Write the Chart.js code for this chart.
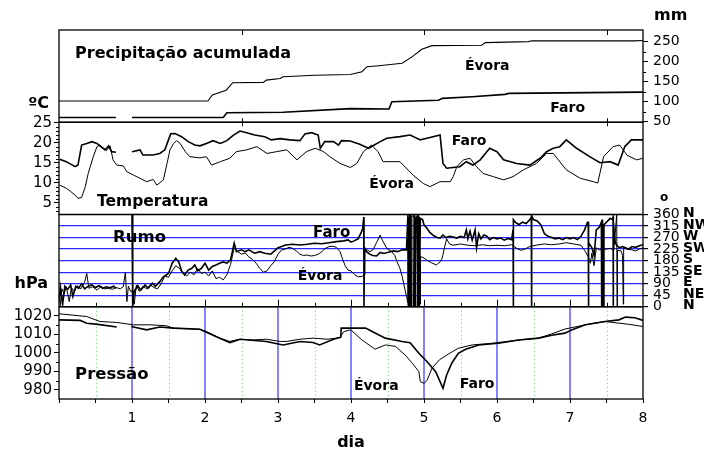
<!DOCTYPE html>
<html><head><meta charset="utf-8">
<style>html,body{margin:0;padding:0;background:#fff;}canvas{display:block;}</style>
</head><body>
<canvas id="c" width="704" height="452" style="width:704px;height:452px"></canvas>
<script src="https://cdn.jsdelivr.net/npm/chart.js"></script>
<script>
// ---------- DATA (day, value) ----------
const xTickDays = [0,0.5,1,1.5,2,2.5,3,3.5,4,4.5,5,5.5,6,6.5,7,7.5,8];
const xLabelDays = [1,2,3,4,5,6,7,8];
const precTicks = [50,100,150,200,250];
const tempTicks = [5,10,15,20,25];
const rumoTicks = [0,45,90,135,180,225,270,315,360];
const rumoCompass = ['N','NE','E','SE','S','SW','W','NW','N'];
const presTicks = [980,990,1000,1010,1020];

const precEvora = [[0,102],[2.04,102],[2.1,117],[2.29,129],[2.38,147.5],[2.8,148.5],[2.84,154],[3.03,158],[3.07,162.5],[3.5,166],[3.99,168],[4.15,175],[4.22,187.5],[4.38,190],[4.7,196],[4.84,212.5],[4.97,231],[5.11,240],[5.79,241],[5.84,247.5],[6.43,250],[6.48,252],[7.89,252],[8.0,253]];
const precFaro = [[0,61],[0.78,61],[0.8,null],[1.0,61],[2.25,61],[2.3,72.5],[3.07,74],[3.99,83],[4.52,82],[4.56,100],[5.2,104],[5.25,108.5],[5.66,112.5],[6.11,118.5],[6.16,121],[8.0,124]];

const tempEvora = [[0.01,9.4],[0.1,8.6],[0.16,7.8],[0.22,6.9],[0.26,6.1],[0.31,6.3],[0.36,9],[0.4,12.3],[0.47,16.5],[0.52,19],[0.56,19.4],[0.61,18.6],[0.65,18],[0.7,19.2],[0.74,15.7],[0.79,14.4],[0.88,14.2],[0.93,12.75],[1.02,11.9],[1.11,11.1],[1.2,10.25],[1.29,10.8],[1.34,9.4],[1.43,10.7],[1.48,14.8],[1.52,18.2],[1.57,19.8],[1.61,20.5],[1.66,19.8],[1.73,17.75],[1.79,16.5],[1.93,16.2],[2.02,16.5],[2.09,14.4],[2.21,15.25],[2.34,16.1],[2.43,17.75],[2.57,18.2],[2.71,19],[2.85,17.3],[2.98,17.75],[3.12,18.2],[3.26,15.7],[3.39,17.75],[3.51,18.6],[3.62,17.8],[3.71,16.5],[3.85,14.8],[3.99,13.8],[4.08,14.8],[4.17,17.75],[4.28,19.4],[4.37,17.75],[4.44,15.25],[4.67,15.25],[4.85,11.9],[4.99,9.8],[5.08,9],[5.22,10.25],[5.36,10.25],[5.4,11.5],[5.45,14],[5.54,15.7],[5.63,16.1],[5.72,14],[5.81,12.3],[5.95,11.5],[6.09,10.7],[6.22,11.5],[6.36,13.2],[6.54,14.8],[6.68,17.3],[6.77,17.3],[6.95,13.2],[7.14,11.1],[7.32,10.25],[7.38,9.9],[7.46,16.5],[7.59,19],[7.68,19.4],[7.78,16.9],[7.91,15.7],[8.0,16.1]];
const tempFaro = [[0.01,15.85],[0.1,15.25],[0.22,14],[0.26,14.4],[0.31,19.4],[0.38,19.8],[0.45,20.25],[0.52,19.8],[0.56,19.2],[0.63,18.2],[0.68,19.2],[0.72,17.75],[0.78,17.6],[0.85,null],[1.0,17.75],[1.11,18.2],[1.15,16.9],[1.29,16.9],[1.38,17.3],[1.45,18.2],[1.5,20.7],[1.53,22.2],[1.59,22.3],[1.68,21.5],[1.77,20.25],[1.86,19.4],[1.93,19.2],[2.02,19.8],[2.11,20.5],[2.21,19.8],[2.3,20.5],[2.39,21.9],[2.48,22.9],[2.57,22.5],[2.68,21.9],[2.82,21.5],[2.91,20.7],[3.03,21],[3.16,20.7],[3.3,20.5],[3.37,22.2],[3.46,22.5],[3.55,21.9],[3.58,18.6],[3.64,20.25],[3.76,20.25],[3.83,19.4],[3.87,20.5],[3.99,20.4],[4.12,19.6],[4.24,18.6],[4.4,20.25],[4.49,21.1],[4.67,21.5],[4.81,21.9],[4.95,20.7],[5.04,21.1],[5.22,21.9],[5.26,14.8],[5.31,13.6],[5.49,14],[5.58,15.25],[5.67,14.4],[5.77,15.7],[5.9,18.6],[6.0,17.75],[6.09,15.7],[6.27,14.8],[6.45,14.4],[6.59,16.1],[6.68,17.75],[6.77,18.6],[6.86,19],[6.95,20.7],[7.09,18.6],[7.27,16.5],[7.41,15],[7.55,15.25],[7.66,14.4],[7.75,19],[7.84,20.7],[8.0,20.7]];

const rumoFaro = [[0,20],[0.02,75],[0.05,10],[0.08,80],[0.12,68],[0.16,85],[0.19,40],[0.23,80],[0.27,72],[0.31,90],[0.35,70],[0.4,80],[0.45,85],[0.5,75],[0.55,82],[0.6,72],[0.65,78],[0.7,74],[0.75,80],[0.78,72],[0.8,null],[1.0,360],[1.01,0],[1.03,60],[1.08,82],[1.12,65],[1.18,85],[1.22,72],[1.28,92],[1.32,80],[1.38,98],[1.43,117],[1.5,130],[1.55,170],[1.6,189],[1.64,175],[1.68,140],[1.72,124],[1.77,143],[1.82,150],[1.86,163],[1.9,140],[1.95,150],[2.0,170],[2.05,143],[2.1,157],[2.15,163],[2.2,170],[2.25,175],[2.3,170],[2.35,183],[2.4,248],[2.43,215],[2.5,222],[2.55,215],[2.6,222],[2.68,209],[2.75,215],[2.82,209],[2.9,205],[2.96,220],[3.0,230],[3.05,235],[3.1,241],[3.2,244],[3.3,241],[3.4,244],[3.5,248],[3.6,246],[3.7,250],[3.8,254],[3.9,257],[3.96,261],[4.0,252],[4.05,258],[4.1,266],[4.14,290],[4.16,305],[4.175,350],[4.178,0],[4.185,230],[4.21,215],[4.26,205],[4.3,200],[4.35,198],[4.4,212],[4.45,208],[4.5,212],[4.58,218],[4.64,215],[4.7,222],[4.76,222],[4.78,360],[4.785,0],[4.8,0],[4.805,360],[4.82,360],[4.825,0],[4.86,0],[4.865,360],[4.88,345],[4.885,0],[4.91,0],[4.915,360],[4.93,350],[4.935,0],[4.945,0],[4.95,345],[4.98,340],[5.0,320],[5.04,306],[5.08,290],[5.13,278],[5.18,270],[5.22,268],[5.26,280],[5.3,270],[5.35,275],[5.4,272],[5.45,268],[5.5,275],[5.55,270],[5.58,300],[5.6,265],[5.63,295],[5.66,260],[5.7,300],[5.72,230],[5.75,285],[5.78,265],[5.82,280],[5.86,275],[5.9,262],[5.95,270],[6.0,265],[6.05,268],[6.1,260],[6.15,266],[6.2,262],[6.22,300],[6.223,0],[6.226,340],[6.25,330],[6.3,320],[6.35,330],[6.4,325],[6.45,340],[6.47,350],[6.473,0],[6.476,355],[6.5,340],[6.55,335],[6.6,320],[6.65,285],[6.7,275],[6.75,270],[6.8,265],[6.85,268],[6.9,262],[6.95,270],[7.0,265],[7.05,270],[7.1,262],[7.15,275],[7.2,300],[7.24,330],[7.25,330],[7.253,0],[7.256,250],[7.3,230],[7.33,200],[7.36,300],[7.4,310],[7.43,330],[7.432,0],[7.436,330],[7.44,0],[7.445,340],[7.46,0],[7.465,320],[7.5,330],[7.55,345],[7.58,340],[7.59,350],[7.592,0],[7.595,330],[7.62,250],[7.64,240],[7.68,230],[7.72,235],[7.76,230],[7.8,225],[7.85,235],[7.9,232],[7.95,238],[8.0,242]];
const rumoEvora = [[0,60],[0.02,5],[0.04,70],[0.07,50],[0.1,78],[0.14,20],[0.17,75],[0.21,60],[0.25,82],[0.3,70],[0.35,95],[0.38,130],[0.41,72],[0.46,78],[0.52,65],[0.58,80],[0.62,70],[0.68,72],[0.73,68],[0.78,75],[0.84,70],[0.88,78],[0.91,135],[0.93,20],[0.95,80],[0.98,60],[1.0,62],[1.03,10],[1.06,85],[1.1,60],[1.15,80],[1.2,70],[1.25,85],[1.3,75],[1.35,70],[1.4,90],[1.45,120],[1.5,115],[1.55,140],[1.6,160],[1.65,150],[1.7,130],[1.75,120],[1.8,135],[1.85,125],[1.9,150],[1.95,130],[2.0,135],[2.05,120],[2.1,140],[2.15,110],[2.2,115],[2.25,105],[2.3,125],[2.35,165],[2.4,230],[2.45,215],[2.5,205],[2.55,210],[2.6,195],[2.65,185],[2.7,170],[2.75,150],[2.8,135],[2.85,140],[2.9,160],[2.95,176],[3.0,205],[3.05,222],[3.1,225],[3.15,232],[3.2,228],[3.25,218],[3.3,205],[3.35,200],[3.4,202],[3.45,198],[3.5,200],[3.55,205],[3.6,215],[3.65,228],[3.7,235],[3.75,236],[3.8,232],[3.85,215],[3.88,190],[3.92,160],[3.96,143],[4.0,140],[4.05,125],[4.1,117],[4.15,118],[4.18,125],[4.19,220],[4.22,222],[4.26,215],[4.3,222],[4.35,250],[4.4,280],[4.43,260],[4.49,228],[4.56,215],[4.6,200],[4.63,176],[4.67,150],[4.7,120],[4.73,80],[4.76,40],[4.78,15],[4.785,350],[4.79,350],[4.795,5],[4.83,0],[4.835,355],[4.87,350],[4.875,5],[4.9,355],[4.948,10],[4.952,196],[5.0,190],[5.05,180],[5.1,172],[5.17,163],[5.22,175],[5.25,190],[5.28,230],[5.31,265],[5.35,245],[5.4,240],[5.5,245],[5.6,240],[5.7,238],[5.8,242],[5.9,238],[6.0,240],[6.1,238],[6.2,242],[6.27,228],[6.33,220],[6.38,225],[6.45,235],[6.55,241],[6.65,245],[6.75,242],[6.85,245],[6.95,250],[7.05,245],[7.15,240],[7.2,220],[7.25,195],[7.28,170],[7.3,210],[7.33,160],[7.36,230],[7.4,222],[7.5,225],[7.55,228],[7.6,222],[7.64,360],[7.645,0],[7.65,220],[7.7,218],[7.72,200],[7.73,10],[7.735,230],[7.78,225],[7.85,222],[7.9,218],[7.95,225],[8.0,230]];

const presEvora = [[0,1021.2],[0.38,1019.7],[0.56,1017],[0.79,1016.5],[1.02,1015.2],[1.25,1015.2],[1.47,1014.7],[1.57,1013.4],[1.93,1012.8],[2.02,1011.6],[2.2,1008],[2.34,1006.2],[2.48,1007.4],[2.66,1007],[2.84,1007.4],[3.03,1006.2],[3.12,1006.2],[3.3,1007.4],[3.48,1008],[3.67,1007.4],[3.85,1008.2],[3.9,1011.5],[3.99,1012.5],[4.01,1012],[4.15,1007],[4.33,1002],[4.47,1004.3],[4.61,1003.5],[4.74,998.9],[4.84,994.4],[4.93,989.8],[4.95,984.4],[5.0,983.5],[5.04,985],[5.11,991.7],[5.21,996.2],[5.34,999.5],[5.47,1002.5],[5.66,1004.3],[5.93,1005.2],[6.3,1007],[6.57,1008],[6.75,1010.3],[6.93,1012.9],[7.21,1015.2],[7.48,1017],[7.67,1016.1],[7.8,1015.5],[8.0,1014.3]];
const presFaro = [[0,1017.9],[0.29,1017.6],[0.38,1016.1],[0.56,1015.3],[0.79,1014],[0.85,null],[0.99,1014.3],[1.2,1012.5],[1.38,1014],[1.57,1013.4],[1.93,1012.8],[2.11,1009.6],[2.34,1005.6],[2.48,1007.4],[2.84,1006.2],[3.07,1004.3],[3.3,1006.2],[3.48,1005.6],[3.57,1004.3],[3.76,1007.4],[3.86,1008.5],[3.865,1013.4],[4.2,1013.4],[4.29,1011.6],[4.47,1008],[4.7,1006.2],[4.81,1005.5],[4.93,999.8],[5.04,995.3],[5.16,989.8],[5.22,984.4],[5.26,980.8],[5.31,988],[5.38,994.4],[5.47,999.8],[5.57,1002],[5.75,1004.3],[6.02,1005.2],[6.3,1007],[6.57,1008],[6.75,1009.6],[6.93,1010.7],[7.03,1012.5],[7.21,1015.2],[7.48,1017],[7.67,1017.9],[7.76,1019.4],[7.89,1019],[8.0,1017.6]];

// ---------- LAYOUT / STYLE ----------
const FONT = '"DejaVu Sans", sans-serif';
Chart.defaults.font.family = FONT;
Chart.defaults.font.size = 14;
Chart.defaults.color = '#000';

const panelTexts = [
  {text:'Precipitação acumulada', axis:'yPrec', x:0.22, y:209, size:16},
  {text:'Évora', axis:'yPrec', x:5.56, y:179, size:14},
  {text:'Faro', axis:'yPrec', x:6.73, y:75, size:14},
  {text:'Temperatura', axis:'yTemp', x:0.52, y:4.16, size:15.5},
  {text:'Faro', axis:'yTemp', x:5.38, y:19.4, size:14},
  {text:'Évora', axis:'yTemp', x:4.25, y:8.6, size:14},
  {text:'Rumo', axis:'yRumo', x:0.74, y:254, size:16.5},
  {text:'Faro', axis:'yRumo', x:3.48, y:273, size:15},
  {text:'Évora', axis:'yRumo', x:3.27, y:104, size:14},
  {text:'Pressão', axis:'yPres', x:0.22, y:985.8, size:16.5},
  {text:'Évora', axis:'yPres', x:4.04, y:979.9, size:14},
  {text:'Faro', axis:'yPres', x:5.49, y:980.8, size:14}
];

function pts(arr){ return arr.map(p => ({x:p[0], y:p[1]})); }
function ds(arr, axis, w){ return {data:pts(arr), yAxisID:axis, borderColor:'#000', borderWidth:w, pointRadius:0, spanGaps:false, tension:0, fill:false}; }
const setTicks = vals => s => { s.ticks = vals.map(v => ({value:v})); };
const W_LEFT = 59, W_RIGHT = 61;

function labelAxis(pos, min, max, vals, extra){
  return Object.assign({
    type:'linear', position:pos, stack:'panels', stackWeight:1, min, max,
    afterBuildTicks: setTicks(vals),
    afterFit: s => { s.width = pos === 'left' ? W_LEFT : W_RIGHT; },
    border:{display:false},
    grid:{drawOnChartArea:false, drawTicks:true, tickLength:5, color:'#000', tickColor:'#000'},
    ticks:{autoSkip:false, padding: pos === 'left' ? 2 : 5, font:{size: pos === 'left' ? 15 : 14}, color:'#000', callback: v => String(v)}
  }, extra || {});
}
function blankAxis(pos, min, max){
  return {type:'linear', position:pos, stack:'panels', stackWeight:1, min, max,
    afterFit: s => { s.width = pos === 'left' ? W_LEFT : W_RIGHT; },
    border:{display:false}, grid:{display:false}, ticks:{display:false}};
}

const PREC = [49,279], TEMP = [2.05,25.1], RUMO = [0,360], PRES = [975,1025];

const decor = {
  id:'decor',
  beforeDatasetsDraw(chart){
    const {ctx, scales:s} = chart;
    const x = s.x, yp = s.yPres;
    ctx.save();
    ctx.lineWidth = 1;
    ctx.strokeStyle = '#8fe08f';
    ctx.setLineDash([1.5,2.5]);
    [0.5,1.5,2.5,3.5,4.5,5.5,6.5,7.5].forEach(d => {
      const px = Math.round(x.getPixelForValue(d)) + 0.5;
      ctx.beginPath(); ctx.moveTo(px, yp.top); ctx.lineTo(px, yp.bottom); ctx.stroke();
    });
    ctx.setLineDash([]);
    ctx.strokeStyle = '#5a5aff';
    ctx.lineWidth = 1.5;
    [1,2,3,4,5,6,7].forEach(d => {
      const px = x.getPixelForValue(d);
      ctx.beginPath(); ctx.moveTo(px, yp.top); ctx.lineTo(px, yp.bottom); ctx.stroke();
    });
    ctx.restore();
  },
  afterDraw(chart){
    const {ctx, chartArea:a, scales:s} = chart;
    const x = s.x;
    ctx.save();
    ctx.strokeStyle = '#000'; ctx.lineWidth = 1.3;
    ['yPrec','yTemp','yRumo','yPres'].forEach(id => {
      const sc = s[id];
      ctx.strokeRect(a.left, sc.top, a.right - a.left, sc.bottom - sc.top);
    });
    ctx.lineWidth = 1;
    const hTick = (sc, v, x0, x1) => { const py = Math.round(sc.getPixelForValue(v)) + 0.5; ctx.beginPath(); ctx.moveTo(x0, py); ctx.lineTo(x1, py); ctx.stroke(); };
    for (let v = 3; v <= 24; v++) if (v % 5) hTick(s.yTemp, v, a.left - 3, a.left);
    [985,995,1005,1015].forEach(v => hTick(s.yPres, v, a.left - 3, a.left));
    [75,125,175,225].forEach(v => hTick(s.yPrec, v, a.right, a.right + 3));
    xTickDays.slice(1, -1).forEach(d => {
      const px = Math.round(x.getPixelForValue(d)) + 0.5;
      const len = Number.isInteger(d) ? 7 : 4;
      ctx.beginPath(); ctx.moveTo(px, s.yPres.top); ctx.lineTo(px, s.yPres.top - len); ctx.stroke();
    });
    [2.5,5,7.5].forEach(d => {
      const px = Math.round(x.getPixelForValue(d)) + 0.5;
      ctx.beginPath(); ctx.moveTo(px, s.yPrec.top); ctx.lineTo(px, s.yPrec.top + 5); ctx.stroke();
      ctx.beginPath(); ctx.moveTo(px, s.yPrec.bottom - 4); ctx.lineTo(px, s.yPrec.bottom + 4); ctx.stroke();
    });
    ctx.fillStyle = '#000';
    ctx.textBaseline = 'alphabetic';
    ctx.textAlign = 'left';
    panelTexts.forEach(t => {
      ctx.font = `bold ${t.size}px ${FONT}`;
      ctx.fillText(t.text, x.getPixelForValue(t.x), s[t.axis].getPixelForValue(t.y));
    });
    ctx.font = `bold 16px ${FONT}`;
    ctx.textAlign = 'right';
    ctx.fillText('ºC', a.left - 10, s.yTemp.top - 14);
    ctx.fillText('hPa', a.left - 11, s.yPres.top - 19);
    ctx.textAlign = 'left';
    ctx.fillText('mm', a.right + 11, a.top - 10);
    ctx.font = `bold 12px ${FONT}`;
    ctx.fillText('o', a.right + 17, s.yTemp.bottom - 14);
    ctx.font = `bold 14px ${FONT}`;
    ctx.textBaseline = 'middle';
    rumoTicks.forEach((v, i) => {
      ctx.fillText(rumoCompass[i], a.right + 40, s.yRumo.getPixelForValue(v) - 1);
    });
    ctx.restore();
  }
};

new Chart(document.getElementById('c'), {
  type:'line',
  data:{datasets:[
    ds(precEvora,'yPrec',1.1), ds(precFaro,'yPrec',1.6),
    ds(tempEvora,'yTemp',1.0), ds(tempFaro,'yTemp',1.6),
    ds(rumoEvora,'yRumo',1.0), ds(rumoFaro,'yRumo',1.6),
    ds(presEvora,'yPres',1.0), ds(presFaro,'yPres',1.6)
  ]},
  options:{
    responsive:false, animation:false, devicePixelRatio:1,
    layout:{padding:{left:0, right:0, top:30, bottom:0}},
    plugins:{legend:{display:false}, tooltip:{enabled:false}},
    scales:{
      x:{type:'linear', position:'bottom', min:0, max:8,
        afterBuildTicks: setTicks(xTickDays),
        afterFit: s => { s.height = 53; },
        border:{display:false},
        grid:{drawOnChartArea:false, tickLength:4, color:'#000'},
        ticks:{autoSkip:false, maxRotation:0, padding:7, font:{size:14}, color:'#000',
          callback: v => xLabelDays.includes(v) ? String(v) : ''},
        title:{display:true, text:'dia', font:{size:16, weight:'bold'}, color:'#000', padding:{top:0, bottom:0}}
      },
      yPres: labelAxis('left', PRES[0], PRES[1], presTicks),
      yRumoL: blankAxis('left', RUMO[0], RUMO[1]),
      yTemp: labelAxis('left', TEMP[0], TEMP[1], tempTicks),
      yPrecL: blankAxis('left', PREC[0], PREC[1]),
      yPrec: labelAxis('right', PREC[0], PREC[1], precTicks),
      yTempR: blankAxis('right', TEMP[0], TEMP[1]),
      yRumo: labelAxis('right', RUMO[0], RUMO[1], rumoTicks, {
        grid:{drawOnChartArea:true, drawTicks:true, tickLength:5, tickColor:'#000', lineWidth:1.2,
          color: c => (c.tick && (c.tick.value === 0 || c.tick.value === 360)) ? 'rgba(0,0,0,0)' : '#2a2aff'}
      }),
      yPresR: blankAxis('right', PRES[0], PRES[1])
    }
  },
  plugins:[decor]
});
</script>
</body></html>
